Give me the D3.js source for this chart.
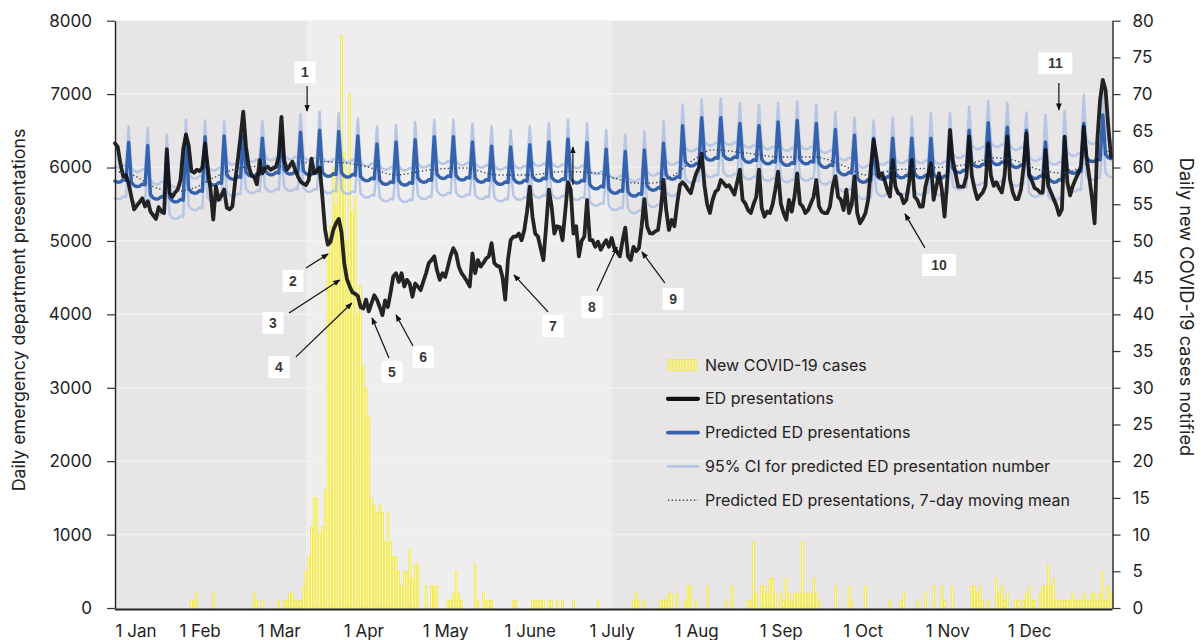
<!DOCTYPE html>
<html>
<head>
<meta charset="utf-8">
<script src="https://cdn.jsdelivr.net/npm/d3@7"></script>
<style>
  html, body { margin: 0; padding: 0; background: #fff; }
  svg { display: block; font-family: "Inter", "Open Sans", sans-serif; }
</style>
</head>
<body>
<svg id="chart" width="1201" height="640"></svg>
<script>
// Дневные ряды за 2020 год, индекс = номер дня от 1 января.
const monthLabels = ["1 Jan", "1 Feb", "1 Mar", "1 Apr", "1 May", "1 June", "1 July", "1 Aug", "1 Sep", "1 Oct", "1 Nov", "1 Dec"];
const leftTicks = [0, 1000, 2000, 3000, 4000, 5000, 6000, 7000, 8000];
const rightTicks = [0, 5, 10, 15, 20, 25, 30, 35, 40, 45, 50, 55, 60, 65, 70, 75, 80];
const shadedPeriod = [70, 182];

const edPresentations = [
  6330, 6280, 6050, 5880, 5900,
  5780, 5600, 5430, 5480, 5530, 5580, 5470,
  5540, 5400, 5350, 5300, 5460, 5400, 5380,
  6250, 5650, 5600, 5660, 5700, 5830, 6250,
  6450, 6300, 5950, 5930, 5970, 5950, 6000,
  6330, 6000, 5700, 5290, 5740, 5560, 5620,
  5700, 5450, 5430, 5470, 5800, 6100, 6420,
  6760, 6290, 6010, 5900, 5870, 5770, 6100,
  5920, 5990, 6010, 5970, 5990, 6010, 6150,
  6690, 6100, 5970, 6020, 6080, 5970, 5880,
  5810, 5780, 5760, 5830, 6120, 5920, 5960,
  6000, 5600, 5150, 4950, 4990, 5150, 5240,
  5300, 5120, 4700, 4480, 4380, 4300, 4280,
  4250, 4100, 4080, 4200, 4040, 4150, 4260,
  4200, 4100, 3990, 4190, 4100, 4300, 4520,
  4560, 4440, 4560, 4380, 4470, 4420, 4240,
  4420, 4380, 4330, 4450, 4560, 4700, 4740,
  4790, 4600, 4470, 4560, 4510, 4650, 4800,
  4900, 4830, 4650, 4560, 4510, 4450, 4380,
  4830, 4560, 4740, 4650, 4700, 4760, 4790,
  4970, 4700, 4660, 4650, 4510, 4200, 4740,
  5010, 5060, 5060, 5100, 5010, 5150, 5400,
  5740, 5330, 5100, 5060, 4900, 4740, 5200,
  5700, 5470, 5100, 5200, 5190, 5010, 5400,
  5800, 5700, 5100, 5200, 4790, 5000, 5060,
  5560, 5010, 5010, 4920, 4990, 4880, 4950,
  5010, 4920, 5040, 4900, 4850, 4790, 5000,
  5180, 4790, 4740, 4920, 4860, 4900, 5200,
  5570, 5195, 5105, 5100, 5130, 5150, 5420,
  5830, 5420, 5150, 5286, 5200, 5500, 5760,
  5800, 5760, 5700, 5650, 5800, 5920, 6000,
  6190, 5760, 5500, 5380, 5560, 5670, 5700,
  5830, 5790, 5740, 5760, 5700, 5630, 5800,
  5970, 5560, 5510, 5420, 5380, 5500, 5600,
  5970, 5450, 5330, 5400, 5380, 5500, 5700,
  5945, 5510, 5380, 5290, 5560, 5400, 5600,
  5920, 5510, 5470, 5380, 5420, 5510, 5600,
  5830, 5470, 5400, 5380, 5380, 5470, 5740,
  5880, 5600, 5560, 5420, 5700, 5380, 5500,
  5880, 5380, 5240, 5300, 5377, 5560, 6000,
  6376, 6150, 5877, 5922, 5831, 5700, 5604,
  6104, 5740, 5650, 5627, 5513, 5559, 5800,
  6104, 5604, 5559, 5468, 5468, 5740, 5900,
  6058, 5559, 5740, 5922, 5700, 5332, 5831,
  6513, 6104, 5922, 5740, 5740, 5740, 5877,
  6422, 5890, 5710, 5570, 5620, 5660, 5750,
  6331, 5890, 5750, 5800, 5720, 5660, 5890,
  6422, 5840, 5660, 5570, 5570, 5700, 6020,
  6467, 5890, 5820, 5720, 5700, 5660, 5660,
  6240, 5750, 5660, 5570, 5480, 5354, 5430,
  6422, 5800, 5620, 5750, 5840, 5920, 6020,
  6558, 6149, 5877, 5600, 5241, 6376, 6921,
  7194, 7057, 6558, 6149
];

const predicted = [
  5815, 5800, 5805, 5835, 5825,
  6340, 5800, 5755, 5740, 5745, 5775, 5765,
  6300, 5630, 5585, 5570, 5575, 5605, 5595,
  6170, 5590, 5545, 5530, 5535, 5565, 5555,
  6440, 5710, 5665, 5650, 5655, 5685, 5675,
  6420, 5820, 5775, 5760, 5765, 5795, 5785,
  6430, 5900, 5855, 5840, 5845, 5875, 5865,
  6420, 5940, 5895, 5880, 5885, 5915, 5905,
  6400, 5960, 5915, 5900, 5905, 5935, 5925,
  6450, 5970, 5925, 5910, 5915, 5945, 5935,
  6480, 5960, 5915, 5900, 5905, 5935, 5925,
  6510, 5940, 5895, 5880, 5885, 5915, 5905,
  6490, 5930, 5885, 5870, 5875, 5905, 5895,
  6430, 5880, 5835, 5820, 5825, 5855, 5845,
  6320, 5830, 5785, 5770, 5775, 5805, 5795,
  6350, 5820, 5775, 5760, 5765, 5795, 5785,
  6380, 5860, 5815, 5800, 5805, 5835, 5825,
  6420, 5910, 5865, 5850, 5855, 5885, 5875,
  6420, 5890, 5845, 5830, 5835, 5865, 5855,
  6350, 5860, 5815, 5800, 5805, 5835, 5825,
  6290, 5830, 5785, 5770, 5775, 5805, 5795,
  6280, 5850, 5805, 5790, 5795, 5825, 5815,
  6310, 5880, 5835, 5820, 5825, 5855, 5845,
  6350, 5870, 5825, 5810, 5815, 5845, 5835,
  6390, 5850, 5805, 5790, 5795, 5825, 5815,
  6340, 5770, 5725, 5710, 5715, 5745, 5735,
  6250, 5710, 5665, 5650, 5655, 5685, 5675,
  6220, 5670, 5625, 5610, 5615, 5645, 5635,
  6240, 5750, 5705, 5690, 5695, 5725, 5715,
  6330, 5900, 5855, 5840, 5845, 5875, 5865,
  6570, 6080, 6035, 6020, 6025, 6055, 6045,
  6680, 6160, 6115, 6100, 6105, 6135, 6125,
  6680, 6170, 6125, 6110, 6115, 6145, 6135,
  6600, 6130, 6085, 6070, 6075, 6105, 6095,
  6570, 6110, 6065, 6050, 6055, 6085, 6075,
  6620, 6090, 6045, 6030, 6035, 6065, 6055,
  6640, 6110, 6065, 6050, 6055, 6085, 6075,
  6600, 6060, 6015, 6000, 6005, 6035, 6025,
  6520, 5960, 5915, 5900, 5905, 5935, 5925,
  6440, 5860, 5815, 5800, 5805, 5835, 5825,
  6400, 5900, 5855, 5840, 5845, 5875, 5865,
  6400, 5920, 5875, 5860, 5865, 5895, 5885,
  6400, 5920, 5875, 5860, 5865, 5895, 5885,
  6400, 5910, 5865, 5850, 5855, 5885, 5875,
  6420, 5990, 5945, 5930, 5935, 5965, 5955,
  6510, 6070, 6025, 6010, 6015, 6045, 6035,
  6610, 6100, 6055, 6040, 6045, 6075, 6065,
  6550, 6060, 6015, 6000, 6005, 6035, 6025,
  6510, 5910, 5865, 5850, 5855, 5885, 5875,
  6350, 5860, 5815, 5800, 5805, 5835, 5825,
  6410, 5980, 5935, 5920, 5925, 5955, 5945,
  6600, 6140, 6095, 6080, 6085, 6115, 6105,
  6717, 6180, 6135, 6120
];

const ciUpper = [
  6015, 6000, 6005, 6035, 6025,
  6560, 6000, 5955, 5940, 5945, 5975, 5965,
  6540, 5830, 5785, 5770, 5775, 5805, 5795,
  6450, 5790, 5745, 5730, 5735, 5765, 5755,
  6650, 5910, 5865, 5850, 5855, 5885, 5875,
  6640, 6020, 5975, 5960, 5965, 5995, 5985,
  6630, 6100, 6055, 6040, 6045, 6075, 6065,
  6640, 6140, 6095, 6080, 6085, 6115, 6105,
  6630, 6160, 6115, 6100, 6105, 6135, 6125,
  6670, 6170, 6125, 6110, 6115, 6145, 6135,
  6730, 6160, 6115, 6100, 6105, 6135, 6125,
  6760, 6140, 6095, 6080, 6085, 6115, 6105,
  6740, 6130, 6085, 6070, 6075, 6105, 6095,
  6670, 6080, 6035, 6020, 6025, 6055, 6045,
  6560, 6030, 5985, 5970, 5975, 6005, 5995,
  6580, 6020, 5975, 5960, 5965, 5995, 5985,
  6620, 6060, 6015, 6000, 6005, 6035, 6025,
  6650, 6110, 6065, 6050, 6055, 6085, 6075,
  6650, 6090, 6045, 6030, 6035, 6065, 6055,
  6600, 6060, 6015, 6000, 6005, 6035, 6025,
  6560, 6030, 5985, 5970, 5975, 6005, 5995,
  6510, 6050, 6005, 5990, 5995, 6025, 6015,
  6560, 6080, 6035, 6020, 6025, 6055, 6045,
  6600, 6070, 6025, 6010, 6015, 6045, 6035,
  6650, 6050, 6005, 5990, 5995, 6025, 6015,
  6600, 5970, 5925, 5910, 5915, 5945, 5935,
  6510, 5910, 5865, 5850, 5855, 5885, 5875,
  6450, 5870, 5825, 5810, 5815, 5845, 5835,
  6490, 5950, 5905, 5890, 5895, 5925, 5915,
  6630, 6100, 6055, 6040, 6045, 6075, 6065,
  6860, 6280, 6235, 6220, 6225, 6255, 6245,
  6930, 6360, 6315, 6300, 6305, 6335, 6325,
  6940, 6370, 6325, 6310, 6315, 6345, 6335,
  6880, 6330, 6285, 6270, 6275, 6305, 6295,
  6850, 6310, 6265, 6250, 6255, 6285, 6275,
  6880, 6290, 6245, 6230, 6235, 6265, 6255,
  6900, 6310, 6265, 6250, 6255, 6285, 6275,
  6860, 6260, 6215, 6200, 6205, 6235, 6225,
  6760, 6160, 6115, 6100, 6105, 6135, 6125,
  6680, 6060, 6015, 6000, 6005, 6035, 6025,
  6640, 6100, 6055, 6040, 6045, 6075, 6065,
  6680, 6120, 6075, 6060, 6065, 6095, 6085,
  6690, 6120, 6075, 6060, 6065, 6095, 6085,
  6740, 6110, 6065, 6050, 6055, 6085, 6075,
  6750, 6190, 6145, 6130, 6135, 6165, 6155,
  6830, 6310, 6265, 6250, 6255, 6285, 6275,
  6910, 6340, 6295, 6280, 6285, 6315, 6305,
  6880, 6300, 6255, 6240, 6245, 6275, 6265,
  6750, 6150, 6105, 6090, 6095, 6125, 6115,
  6720, 6100, 6055, 6040, 6045, 6075, 6065,
  6770, 6220, 6175, 6160, 6165, 6195, 6185,
  6990, 6380, 6335, 6320, 6325, 6355, 6345,
  7020, 6420, 6375, 6360
];

const ciLower = [
  5585, 5570, 5575, 5605, 5595,
  6050, 5570, 5525, 5510, 5515, 5545, 5535,
  6010, 5400, 5355, 5340, 5345, 5375, 5365,
  5880, 5360, 5315, 5300, 5305, 5335, 5325,
  6150, 5480, 5435, 5420, 5425, 5455, 5445,
  6130, 5590, 5545, 5530, 5535, 5565, 5555,
  6140, 5670, 5625, 5610, 5615, 5645, 5635,
  6130, 5710, 5665, 5650, 5655, 5685, 5675,
  6110, 5730, 5685, 5670, 5675, 5705, 5695,
  6160, 5740, 5695, 5680, 5685, 5715, 5705,
  6190, 5730, 5685, 5670, 5675, 5705, 5695,
  6220, 5710, 5665, 5650, 5655, 5685, 5675,
  6200, 5700, 5655, 5640, 5645, 5675, 5665,
  6140, 5650, 5605, 5590, 5595, 5625, 5615,
  6030, 5600, 5555, 5540, 5545, 5575, 5565,
  6060, 5590, 5545, 5530, 5535, 5565, 5555,
  6090, 5630, 5585, 5570, 5575, 5605, 5595,
  6130, 5680, 5635, 5620, 5625, 5655, 5645,
  6130, 5660, 5615, 5600, 5605, 5635, 5625,
  6060, 5630, 5585, 5570, 5575, 5605, 5595,
  6000, 5600, 5555, 5540, 5545, 5575, 5565,
  5990, 5620, 5575, 5560, 5565, 5595, 5585,
  6020, 5650, 5605, 5590, 5595, 5625, 5615,
  6060, 5640, 5595, 5580, 5585, 5615, 5605,
  6100, 5620, 5575, 5560, 5565, 5595, 5585,
  6050, 5540, 5495, 5480, 5485, 5515, 5505,
  5960, 5480, 5435, 5420, 5425, 5455, 5445,
  5930, 5440, 5395, 5380, 5385, 5415, 5405,
  5950, 5520, 5475, 5460, 5465, 5495, 5485,
  6040, 5670, 5625, 5610, 5615, 5645, 5635,
  6280, 5850, 5805, 5790, 5795, 5825, 5815,
  6390, 5930, 5885, 5870, 5875, 5905, 5895,
  6390, 5940, 5895, 5880, 5885, 5915, 5905,
  6310, 5900, 5855, 5840, 5845, 5875, 5865,
  6280, 5880, 5835, 5820, 5825, 5855, 5845,
  6330, 5860, 5815, 5800, 5805, 5835, 5825,
  6350, 5880, 5835, 5820, 5825, 5855, 5845,
  6310, 5830, 5785, 5770, 5775, 5805, 5795,
  6230, 5730, 5685, 5670, 5675, 5705, 5695,
  6150, 5630, 5585, 5570, 5575, 5605, 5595,
  6110, 5670, 5625, 5610, 5615, 5645, 5635,
  6110, 5690, 5645, 5630, 5635, 5665, 5655,
  6110, 5690, 5645, 5630, 5635, 5665, 5655,
  6110, 5680, 5635, 5620, 5625, 5655, 5645,
  6130, 5760, 5715, 5700, 5705, 5735, 5725,
  6220, 5820, 5775, 5760, 5765, 5795, 5785,
  6320, 5850, 5805, 5790, 5795, 5825, 5815,
  6260, 5810, 5765, 5750, 5755, 5785, 5775,
  6220, 5660, 5615, 5600, 5605, 5635, 5625,
  6060, 5610, 5565, 5550, 5555, 5585, 5575,
  6120, 5730, 5685, 5670, 5675, 5705, 5695,
  6310, 5890, 5845, 5830, 5835, 5865, 5855,
  6430, 5930, 5885, 5870
];

// Скользящее среднее прогноза: [день, значение]
const movingMean = [
  [0, 5950], [7, 5890], [14, 5740], [21, 5672], [29, 5722], [36, 5858], [43, 5967],
  [51, 6013], [60, 6013], [68, 6060], [75, 6081], [85, 6060], [92, 6013], [103, 5899],
  [115, 5967], [128, 5994], [140, 5899], [152, 5899], [164, 5945], [176, 5926], [183, 5858],
  [190, 5790], [197, 5790], [205, 5899], [212, 6103], [219, 6240], [231, 6199], [244, 6144],
  [256, 6144], [268, 6008], [275, 5899], [286, 5967], [299, 5994], [311, 6035], [323, 6130],
  [329, 6103], [339, 5967], [347, 5926], [354, 6008], [360, 6144], [365, 6240]
];

// Новые случаи COVID-19: [день, число случаев]
const newCases = [
  [28, 1], [29, 1], [30, 2], [36, 2], [51, 2], [52, 1], [54, 1], [60, 1], [62, 1], [63, 1],
  [64, 2], [65, 2], [66, 1], [67, 1], [68, 1], [69, 3], [70, 5], [71, 7], [72, 11], [73, 15],
  [74, 15], [75, 10], [76, 11], [77, 16], [78, 48], [79, 52], [80, 60], [81, 55], [82, 60], [83, 78],
  [84, 62], [85, 50], [86, 70], [87, 54], [88, 56], [89, 40], [90, 44], [91, 33], [92, 30], [93, 26],
  [94, 15], [95, 14], [96, 13], [97, 14], [98, 13], [99, 9], [100, 13], [101, 9], [102, 7], [103, 7],
  [104, 5], [105, 3], [106, 5], [107, 5], [108, 8], [109, 4], [110, 6], [111, 6], [114, 3], [116, 3],
  [117, 3], [118, 3], [122, 1], [123, 1], [124, 2], [125, 5], [126, 2], [127, 1], [132, 6], [133, 1],
  [135, 2], [136, 1], [137, 1], [138, 1], [146, 1], [147, 1], [153, 1], [154, 1], [155, 1], [156, 1],
  [157, 1], [159, 1], [160, 1], [162, 1], [164, 1], [168, 1], [177, 1], [190, 1], [191, 2], [192, 1],
  [194, 1], [200, 1], [201, 1], [202, 1], [203, 2], [204, 2], [206, 2], [209, 1], [210, 3], [211, 3],
  [213, 1], [217, 3], [224, 1], [226, 3], [232, 1], [233, 1], [234, 9], [235, 2], [237, 3], [238, 3],
  [239, 2], [240, 4], [241, 4], [242, 2], [244, 2], [245, 1], [246, 4], [247, 2], [248, 1], [249, 2],
  [250, 2], [251, 2], [252, 9], [253, 2], [254, 2], [255, 2], [256, 4], [257, 2], [258, 1], [264, 3],
  [269, 3], [270, 1], [275, 3], [284, 1], [288, 1], [289, 2], [294, 1], [297, 2], [300, 3], [303, 3],
  [304, 1], [307, 3], [314, 3], [315, 3], [316, 2], [317, 3], [318, 1], [320, 1], [323, 4], [324, 2],
  [325, 3], [326, 1], [327, 2], [330, 1], [331, 1], [333, 1], [334, 2], [335, 3], [336, 1], [337, 1],
  [339, 2], [340, 3], [341, 3], [342, 6], [343, 3], [344, 4], [345, 1], [346, 1], [347, 1], [348, 1],
  [349, 1], [350, 1], [351, 2], [352, 1], [353, 1], [354, 1], [355, 2], [356, 1], [357, 1], [358, 2],
  [359, 2], [360, 1], [361, 2], [362, 5], [363, 1], [364, 3], [365, 2]
];

// Подписи-выноски: позиция рамки и стрелка в координатах (день, число обращений)
const notes = [
  { label: "1", at: [69.6, 7296], from: [70.4, 7110], to: [70.4, 6770] },
  { label: "2", at: [65.2, 4455], from: [70, 4632], to: [78.1, 4823] },
  { label: "3", at: [57.9, 3883], from: [63.8, 4019], to: [82.4, 4469] },
  { label: "4", at: [60.1, 3283], from: [66.3, 3420], to: [86.8, 4155] },
  { label: "5", at: [101.5, 3215], from: [100.4, 3406], to: [94.2, 3951] },
  { label: "6", at: [112.9, 3420], from: [109.2, 3569], to: [103, 3992] },
  { label: "7", at: [160.5, 3842], from: [158.7, 4033], to: [146.2, 4537] },
  { label: "8", at: [174.8, 4101], from: [176.6, 4319], to: [184, 4918] },
  { label: "9", at: [204.5, 4210], from: [201.5, 4428], to: [193.1, 4850] },
  { label: "10", at: [302, 4673], from: [296.8, 4905], to: [289.5, 5368] },
  { label: "11", at: [344.6, 7418], from: [345.9, 7153], to: [345.9, 6785] },
  { label: "", at: null, from: [167.8, 5763], to: [167.8, 6281] }
];

const legendItems = [
  { text: "New COVID-19 cases", type: "bars" },
  { text: "ED presentations", type: "ed" },
  { text: "Predicted ED presentations", type: "pred" },
  { text: "95% CI for predicted ED presentation number", type: "ci" },
  { text: "Predicted ED presentations, 7-day moving mean", type: "mean" }
];

const styles = {
  ed: { stroke: "#121212", width: 3.8, opacity: 0.92 },
  pred: { stroke: "#3562ac", width: 3.4, opacity: 1 },
  ci: { stroke: "#b7c6e4", width: 2.5, opacity: 1 },
  mean: { stroke: "#34425f", width: 1.4, opacity: 1, dash: "1.3,2.4" }
};

function drawChart() {
  const svg = d3.select("#chart");
  const area = { left: 115, right: 1111, top: 20.7, bottom: 608, axisY: 609.5, axisRight: 1112.5 };

  const scaleX = d3.scaleLinear().domain([0, 365]).range([area.left, area.right]);
  const scaleY = d3.scaleLinear().domain([0, 8000]).range([area.bottom, area.top]);
  const scaleCases = d3.scaleLinear().domain([0, 80]).range([area.bottom, area.top]);

  createBackground(svg, area, scaleX, scaleY);
  createBars(svg, scaleX, scaleCases);
  createLines(svg, scaleX, scaleY);
  createAxis(svg, area, scaleX, scaleY, scaleCases);
  createNotes(svg, scaleX, scaleY);
  createLegend(svg);
}

function createBackground(svg, area, scaleX, scaleY) {
  svg.append("rect")
    .attr("x", area.left).attr("y", area.top)
    .attr("width", area.axisRight - area.left)
    .attr("height", area.axisY - area.top)
    .attr("fill", "#e7e5e5");

  svg.append("rect")
    .attr("x", scaleX(shadedPeriod[0])).attr("y", area.top)
    .attr("width", scaleX(shadedPeriod[1]) - scaleX(shadedPeriod[0]))
    .attr("height", area.axisY - area.top)
    .attr("fill", "#efeeee");

  svg.append("g")
    .selectAll("line")
    .data(leftTicks.filter(t => t > 0 && t < 8000))
    .enter()
    .append("line")
    .attr("x1", area.left).attr("x2", area.axisRight)
    .attr("y1", d => scaleY(d)).attr("y2", d => scaleY(d))
    .attr("stroke", "#f3f2f2")
    .attr("stroke-width", 1.5);
}

function createBars(svg, scaleX, scaleCases) {
  const barWidth = 1.8;
  svg.append("g")
    .selectAll("rect")
    .data(newCases)
    .enter()
    .append("rect")
    .attr("x", d => scaleX(d[0]) - barWidth / 2)
    .attr("y", d => scaleCases(d[1]))
    .attr("width", barWidth)
    .attr("height", d => scaleCases(0) - scaleCases(d[1]))
    .attr("fill", "#fbf8c8")
    .attr("stroke", "#f2e833")
    .attr("stroke-width", 0.75);
}

function createLines(svg, scaleX, scaleY) {
  const line = d3.line()
    .x((d, i) => scaleX(i))
    .y(d => scaleY(d))
    .curve(d3.curveLinear);

  const group = svg.append("g")
    .attr("fill", "none")
    .attr("stroke-linejoin", "round")
    .attr("stroke-linecap", "round");

  [ciUpper, ciLower].forEach(series => {
    group.append("path")
      .datum(series)
      .attr("d", line)
      .attr("stroke", styles.ci.stroke)
      .attr("stroke-width", styles.ci.width);
  });

  group.append("path")
    .datum(predicted)
    .attr("d", line)
    .attr("stroke", styles.pred.stroke)
    .attr("stroke-width", styles.pred.width);

  group.append("path")
    .datum(edPresentations)
    .attr("d", line)
    .attr("stroke", styles.ed.stroke)
    .attr("stroke-opacity", styles.ed.opacity)
    .attr("stroke-width", styles.ed.width);

  const meanLine = d3.line()
    .x(d => scaleX(d[0]))
    .y(d => scaleY(d[1]))
    .curve(d3.curveMonotoneX);

  group.append("path")
    .datum(movingMean)
    .attr("d", meanLine)
    .attr("stroke", styles.mean.stroke)
    .attr("stroke-width", styles.mean.width)
    .attr("stroke-dasharray", styles.mean.dash)
    .attr("stroke-linecap", "butt");
}

function createAxis(svg, area, scaleX, scaleY, scaleCases) {
  const axisLeft = d3.axisLeft(scaleY)
    .tickValues(leftTicks)
    .tickSize(8)
    .tickSizeOuter(0)
    .tickPadding(15)
    .tickFormat(d3.format("d"));

  const gLeft = svg.append("g")
    .attr("transform", `translate(${area.left}, 0)`)
    .call(axisLeft);

  const axisRight = d3.axisRight(scaleCases)
    .tickValues(rightTicks)
    .tickSize(8)
    .tickSizeOuter(0)
    .tickPadding(12);

  const gRight = svg.append("g")
    .attr("transform", `translate(${area.axisRight}, 0)`)
    .call(axisRight);

  const monthDays = d3.timeMonth.range(new Date(2020, 0, 1), new Date(2021, 0, 1))
    .map(m => d3.timeDay.count(new Date(2020, 0, 1), m));

  const axisBottom = d3.axisBottom(scaleX)
    .tickValues(monthDays)
    .tickSize(0)
    .tickSizeOuter(0)
    .tickPadding(15)
    .tickFormat((d, i) => monthLabels[i]);

  const gBottom = svg.append("g")
    .attr("transform", `translate(0, ${area.axisY})`)
    .call(axisBottom);

  gBottom.select(".domain")
    .attr("d", `M${area.left},0H${area.axisRight}`)
    .attr("stroke-width", 2);
  gBottom.select(".tick text").attr("text-anchor", "start");

  [gLeft, gRight, gBottom].forEach(g => {
    g.selectAll("text")
      .attr("fill", "#222")
      .style("font-size", "17px")
      .style("font-family", "Inter, 'Open Sans', sans-serif");
    g.selectAll("line").attr("stroke", "#333").attr("stroke-width", 1.2);
    g.select(".domain").attr("stroke", "#222");
  });
  gLeft.select(".domain").attr("stroke-width", 1.4);
  gRight.select(".domain").attr("stroke-width", 1.4);

  svg.append("text")
    .attr("transform", "translate(25, 310) rotate(-90)")
    .attr("text-anchor", "middle")
    .attr("fill", "#222")
    .style("font-size", "17.8px")
    .text("Daily emergency department presentations");

  svg.append("text")
    .attr("transform", "translate(1180, 307) rotate(90)")
    .attr("text-anchor", "middle")
    .attr("fill", "#222")
    .style("font-size", "18.2px")
    .text("Daily new COVID-19 cases notified");
}

function createNotes(svg, scaleX, scaleY) {
  svg.append("defs")
    .append("marker")
    .attr("id", "arrow-head")
    .attr("viewBox", "0 0 10 10")
    .attr("refX", 9)
    .attr("refY", 5)
    .attr("markerWidth", 6)
    .attr("markerHeight", 6)
    .attr("orient", "auto")
    .append("path")
    .attr("d", "M0,1L10,5L0,9Z")
    .attr("fill", "#111");

  const group = svg.append("g");

  group.selectAll("line")
    .data(notes)
    .enter()
    .append("line")
    .attr("x1", d => scaleX(d.from[0]))
    .attr("y1", d => scaleY(d.from[1]))
    .attr("x2", d => scaleX(d.to[0]))
    .attr("y2", d => scaleY(d.to[1]))
    .attr("stroke", "#111")
    .attr("stroke-width", 1.2)
    .attr("marker-end", "url(#arrow-head)");

  const labelled = notes.filter(d => d.at);

  group.selectAll("rect")
    .data(labelled)
    .enter()
    .append("rect")
    .attr("x", d => scaleX(d.at[0]) - (d.label.length > 1 ? 17 : 10.5))
    .attr("y", d => scaleY(d.at[1]) - 11)
    .attr("width", d => d.label.length > 1 ? 34 : 21)
    .attr("height", 22)
    .attr("fill", "#fff");

  group.selectAll("text")
    .data(labelled)
    .enter()
    .append("text")
    .attr("x", d => scaleX(d.at[0]))
    .attr("y", d => scaleY(d.at[1]))
    .attr("dy", "0.36em")
    .attr("text-anchor", "middle")
    .attr("fill", "#3a3a3a")
    .style("font-family", "'Liberation Sans', Arial, sans-serif")
    .style("font-weight", "bold")
    .style("font-size", "14px")
    .text(d => d.label);
}

function createLegend(svg) {
  const legend = svg.append("g")
    .attr("class", "legend")
    .attr("transform", "translate(668, 365)");

  const rowStep = 33.8;

  const rows = legend.selectAll("g")
    .data(legendItems)
    .enter()
    .append("g")
    .attr("transform", (d, i) => `translate(0, ${i * rowStep})`);

  rows.each(function (d) {
    const row = d3.select(this);
    if (d.type === "bars") {
      row.selectAll("rect")
        .data(d3.range(10))
        .enter()
        .append("rect")
        .attr("x", k => k * 3)
        .attr("y", -5.5)
        .attr("width", 1.8)
        .attr("height", 11)
        .attr("fill", "#fbf8c8")
        .attr("stroke", "#f2e833")
        .attr("stroke-width", 0.75);
    } else {
      const st = styles[d.type];
      row.append("line")
        .attr("x1", 0).attr("x2", 30)
        .attr("y1", 0).attr("y2", 0)
        .attr("stroke", st.stroke)
        .attr("stroke-width", d.type === "mean" ? 1.4 : st.width + 0.4)
        .attr("stroke-dasharray", st.dash || null)
        .attr("stroke-linecap", d.type === "mean" ? "butt" : "round");
    }
  });

  rows.append("text")
    .attr("x", 37)
    .attr("y", 0)
    .attr("dy", "0.35em")
    .attr("fill", "#222")
    .style("font-size", "16px")
    .text(d => d.text);
}

drawChart();
</script>
</body>
</html>
